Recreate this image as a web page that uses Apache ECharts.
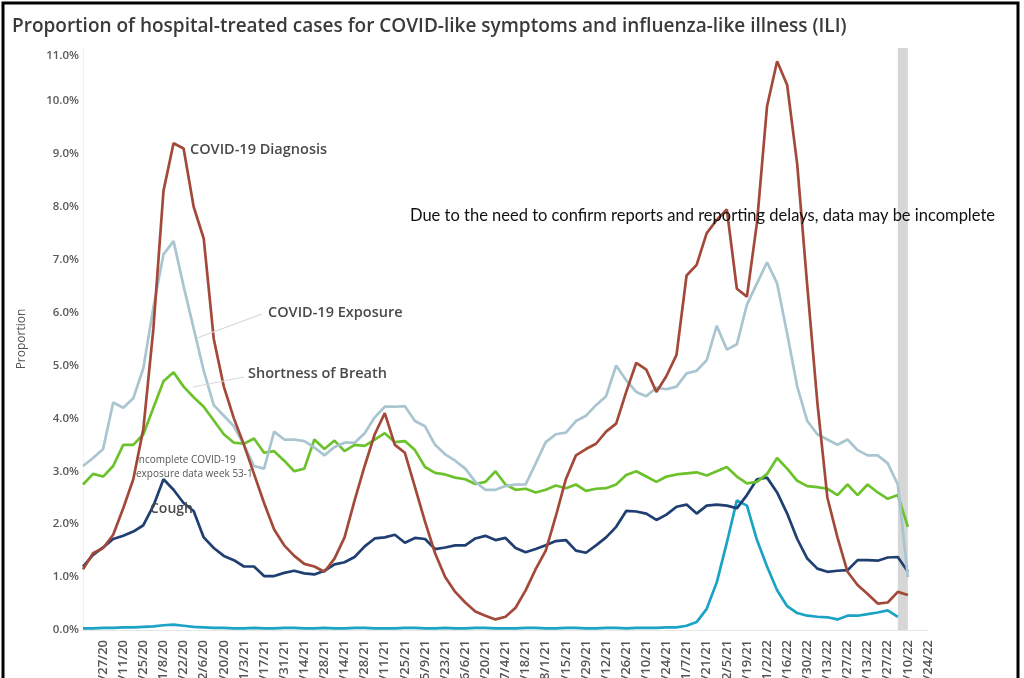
<!DOCTYPE html>
<html>
<head>
<meta charset="utf-8">
<script src="https://cdn.jsdelivr.net/npm/echarts@6/dist/echarts.min.js"></script>
<style>
  html, body { margin: 0; padding: 0; background: #fff; }
  #chart { width: 1024px; height: 678px; }
</style>
</head>
<body>
<div id="chart"></div>
<script>
// Weekly reporting periods (week ending), 9/13/20 – 4/24/22
const weeks = [
  '9/13/20','9/20/20','9/27/20','10/4/20','10/11/20','10/18/20','10/25/20','11/1/20','11/8/20','11/15/20',
  '11/22/20','11/29/20','12/6/20','12/13/20','12/20/20','12/27/20','1/3/21','1/10/21','1/17/21','1/24/21',
  '1/31/21','2/7/21','2/14/21','2/21/21','2/28/21','3/7/21','3/14/21','3/21/21','3/28/21','4/4/21',
  '4/11/21','4/18/21','4/25/21','5/2/21','5/9/21','5/16/21','5/23/21','5/30/21','6/6/21','6/13/21',
  '6/20/21','6/27/21','7/4/21','7/11/21','7/18/21','7/25/21','8/1/21','8/8/21','8/15/21','8/22/21',
  '8/29/21','9/5/21','9/12/21','9/19/21','9/26/21','10/3/21','10/10/21','10/17/21','10/24/21','10/31/21',
  '11/7/21','11/14/21','11/21/21','11/28/21','12/5/21','12/12/21','12/19/21','12/26/21','1/2/22','1/9/22',
  '1/16/22','1/23/22','1/30/22','2/6/22','2/13/22','2/20/22','2/27/22','3/6/22','3/13/22','3/20/22',
  '3/27/22','4/3/22','4/10/22','4/17/22','4/24/22'
];

// Percent of hospital-treated cases, one value per week starting 9/13/20
const covidDiagnosis = [
  1.15, 1.45, 1.55, 1.8, 2.3, 2.85, 3.8, 5.7, 8.3, 9.2,
  9.1, 8.0, 7.4, 5.5, 4.6, 4.0, 3.5, 2.95, 2.4, 1.9,
  1.6, 1.4, 1.25, 1.2, 1.1, 1.35, 1.75, 2.45, 3.1, 3.7,
  4.1, 3.5, 3.35, 2.7, 2.05, 1.45, 1.0, 0.72, 0.52, 0.35,
  0.27, 0.2, 0.25, 0.42, 0.75, 1.15, 1.5, 2.15, 2.85, 3.3,
  3.42, 3.52, 3.75, 3.9, 4.5, 5.05, 4.92, 4.5, 4.8, 5.2,
  6.7, 6.9, 7.5, 7.75, 7.95, 6.45, 6.3, 7.7, 9.9, 10.75,
  10.3, 8.8, 6.5, 4.3, 2.5, 1.75, 1.1, 0.85, 0.68, 0.5,
  0.52, 0.72, 0.66
];
const covidExposure = [
  3.1, 3.25, 3.42, 4.3, 4.2, 4.38, 4.95, 6.1, 7.1, 7.35,
  6.5, 5.7, 4.9, 4.25, 4.05, 3.85, 3.5, 3.1, 3.05, 3.75,
  3.6, 3.6, 3.57, 3.45, 3.3, 3.46, 3.54, 3.54, 3.72, 4.02,
  4.22, 4.22, 4.23, 3.95, 3.85, 3.5, 3.32, 3.2, 3.05, 2.8,
  2.65, 2.65, 2.72, 2.75, 2.75, 3.15, 3.55, 3.7, 3.73, 3.95,
  4.05, 4.25, 4.42, 5.0, 4.72, 4.5, 4.42, 4.58, 4.55, 4.6,
  4.85, 4.9, 5.1, 5.75, 5.3, 5.4, 6.15, 6.55, 6.95, 6.55,
  5.6, 4.6, 3.95, 3.7, 3.6, 3.5, 3.6, 3.4, 3.3, 3.3,
  3.15, 2.75, 1.0
];
const shortnessOfBreath = [
  2.75, 2.95, 2.9, 3.1, 3.5, 3.5, 3.7, 4.2, 4.7, 4.87,
  4.6, 4.4, 4.22, 3.96, 3.7, 3.54, 3.52, 3.62, 3.35, 3.38,
  3.2, 3.0, 3.05, 3.6, 3.42, 3.58, 3.38, 3.5, 3.48, 3.6,
  3.72, 3.55, 3.57, 3.4, 3.08, 2.97, 2.94, 2.88, 2.85, 2.76,
  2.8, 3.0, 2.75, 2.65, 2.67, 2.6, 2.65, 2.73, 2.68, 2.75,
  2.63, 2.67, 2.68, 2.75, 2.93, 3.0, 2.9, 2.8, 2.9, 2.94,
  2.96, 2.98, 2.92, 3.0, 3.08, 2.9, 2.77, 2.8, 2.95, 3.25,
  3.05, 2.82, 2.72, 2.7, 2.67, 2.55, 2.75, 2.55, 2.75, 2.6,
  2.48, 2.55, 1.95
];
const cough = [
  1.2, 1.42, 1.56, 1.72, 1.78, 1.86, 1.98, 2.35, 2.85, 2.65,
  2.4, 2.25, 1.75, 1.55, 1.4, 1.32, 1.2, 1.2, 1.02, 1.02,
  1.08, 1.12, 1.07, 1.05, 1.12, 1.24, 1.28, 1.38, 1.58, 1.73,
  1.75, 1.8, 1.65, 1.74, 1.72, 1.53, 1.56, 1.6, 1.6, 1.73,
  1.78, 1.7, 1.74, 1.55, 1.47, 1.53, 1.6, 1.68, 1.7, 1.5,
  1.46, 1.6, 1.75, 1.95, 2.25, 2.24, 2.2, 2.08, 2.18, 2.33,
  2.37, 2.2, 2.35, 2.37, 2.35, 2.3, 2.55, 2.85, 2.88, 2.6,
  2.2, 1.72, 1.35, 1.16, 1.1, 1.12, 1.13, 1.32, 1.32, 1.31,
  1.37, 1.38, 1.1
];
const influenzaLike = [
  0.03, 0.03, 0.04, 0.04, 0.05, 0.05, 0.06, 0.07, 0.09, 0.1,
  0.08, 0.06, 0.05, 0.04, 0.04, 0.03, 0.03, 0.04, 0.03, 0.03,
  0.04, 0.04, 0.03, 0.03, 0.04, 0.03, 0.03, 0.04, 0.04, 0.03,
  0.03, 0.03, 0.04, 0.04, 0.03, 0.03, 0.04, 0.03, 0.03, 0.04,
  0.04, 0.03, 0.03, 0.03, 0.04, 0.04, 0.03, 0.03, 0.04, 0.04,
  0.03, 0.03, 0.04, 0.04, 0.03, 0.04, 0.04, 0.04, 0.05, 0.05,
  0.08, 0.15, 0.4, 0.9, 1.65, 2.45, 2.35, 1.7, 1.2, 0.75,
  0.45, 0.32, 0.27, 0.25, 0.24, 0.2, 0.27, 0.27, 0.3, 0.33,
  0.37, 0.25
];

// Y-axis ticks in percent
const yTicks = [0, 1, 2, 3, 4, 5, 6, 7, 8, 9, 10, 11];
// Weeks still subject to reporting delays
const incompleteWeeks = ['4/3/22', '4/10/22'];

const chart = echarts.init(document.getElementById('chart'), null, { renderer: 'canvas' });

const lineSeries = (name, data, color, z) => ({
  name, type: 'line', data, z,
  showSymbol: false, symbol: 'none',
  lineStyle: { color, width: 2.7 },
  itemStyle: { color },
  emphasis: { disabled: true }
});

const calloutStyle = (text) => ({ text, font: '600 14.5px "Open Sans"', fill: '#4a4a4a' });
const tickFont = { color: '#5a5a5a', fontFamily: 'Open Sans', fontWeight: 600, fontSize: 11.5 };

chart.setOption({
  backgroundColor: '#fff',
  animation: false,
  grid: { left: 83, right: 96, top: 48, bottom: 48, containLabel: false, outerBoundsMode: 'none' },
  xAxis: {
    type: 'category',
    data: weeks,
    boundaryGap: false,
    axisLine: { show: true, lineStyle: { color: '#e6e6e6', width: 1 } },
    axisTick: { show: false },
    axisLabel: {
      rotate: 90,
      margin: 10,
      interval: (i) => i >= 2 && i % 2 === 0,
      color: '#555',
      fontFamily: 'Open Sans',
      fontWeight: 600,
      fontSize: 13
    },
    splitLine: { show: false }
  },
  yAxis: {
    type: 'value',
    min: yTicks[0],
    max: yTicks[yTicks.length - 1],
    interval: 1,
    name: 'Proportion',
    nameLocation: 'middle',
    nameRotate: 90,
    nameGap: 55,
    nameTextStyle: { color: '#555', fontFamily: 'Open Sans', fontSize: 12 },
    axisLine: { show: true, lineStyle: { color: '#f0f0f0' } },
    axisTick: { show: false },
    splitLine: { show: false },
    axisLabel: Object.assign({
      // the top tick label sits a little below the plot edge
      formatter: (v) => v === yTicks[yTicks.length - 1] ? '{hi|' + v.toFixed(1) + '%}' : v.toFixed(1) + '%',
      margin: 4,
      rich: { hi: Object.assign({ padding: [16, 0, 0, 0] }, tickFont) }
    }, tickFont)
  },
  series: [
    Object.assign(lineSeries('Influenza-like Illness', influenzaLike, '#1ba3c6', 3), {
      markArea: {
        silent: true,
        itemStyle: { color: '#d6d6d6' },
        data: [[{ xAxis: incompleteWeeks[0] }, { xAxis: incompleteWeeks[1] }]]
      }
    }),
    lineSeries('Cough', cough, '#1f3f72', 4),
    lineSeries('Shortness of Breath', shortnessOfBreath, '#6cc22b', 5),
    lineSeries('COVID-19 Exposure', covidExposure, '#a9c5d0', 6),
    lineSeries('COVID-19 Diagnosis', covidDiagnosis, '#a3493a', 7)
  ],
  graphic: [
    // frame around the figure
    { type: 'rect', shape: { x: 3, y: 3, width: 1015, height: 690 }, style: { fill: 'none', stroke: '#000', lineWidth: 3 }, silent: true },
    { type: 'text', left: 12, top: 17, style: { text: 'Proportion of hospital-treated cases for COVID-like symptoms and influenza-like illness (ILI)', font: '600 19px "Open Sans"', fill: '#3a3a3a' } },
    { type: 'text', left: 410, top: 207, style: { text: 'Due to the need to confirm reports and reporting delays, data may be incomplete', font: '16.5px Lato', fill: '#111' }, z: 20 },
    // series call-outs
    { type: 'text', left: 190, top: 142, style: calloutStyle('COVID-19 Diagnosis'), z: 10 },
    { type: 'line', shape: { x1: 197, y1: 338, x2: 262, y2: 314 }, style: { stroke: '#d8d8d8', lineWidth: 1.2 }, z: 10 },
    { type: 'text', left: 268, top: 305, style: calloutStyle('COVID-19 Exposure'), z: 10 },
    { type: 'line', shape: { x1: 193, y1: 387, x2: 244, y2: 377 }, style: { stroke: '#d8d8d8', lineWidth: 1.2 }, z: 10 },
    { type: 'text', left: 248, top: 366, style: calloutStyle('Shortness of Breath'), z: 10 },
    { type: 'text', left: 136, top: 453, style: { text: 'Incomplete COVID-19\nexposure data week 53-1', font: '10px "Open Sans"', fill: '#555', lineHeight: 14 }, z: 10 },
    { type: 'text', left: 150, top: 502, style: { text: 'Cough', font: '600 14px "Open Sans"', fill: '#4a4a4a' }, z: 10 }
  ]
});
</script>
</body>
</html>
